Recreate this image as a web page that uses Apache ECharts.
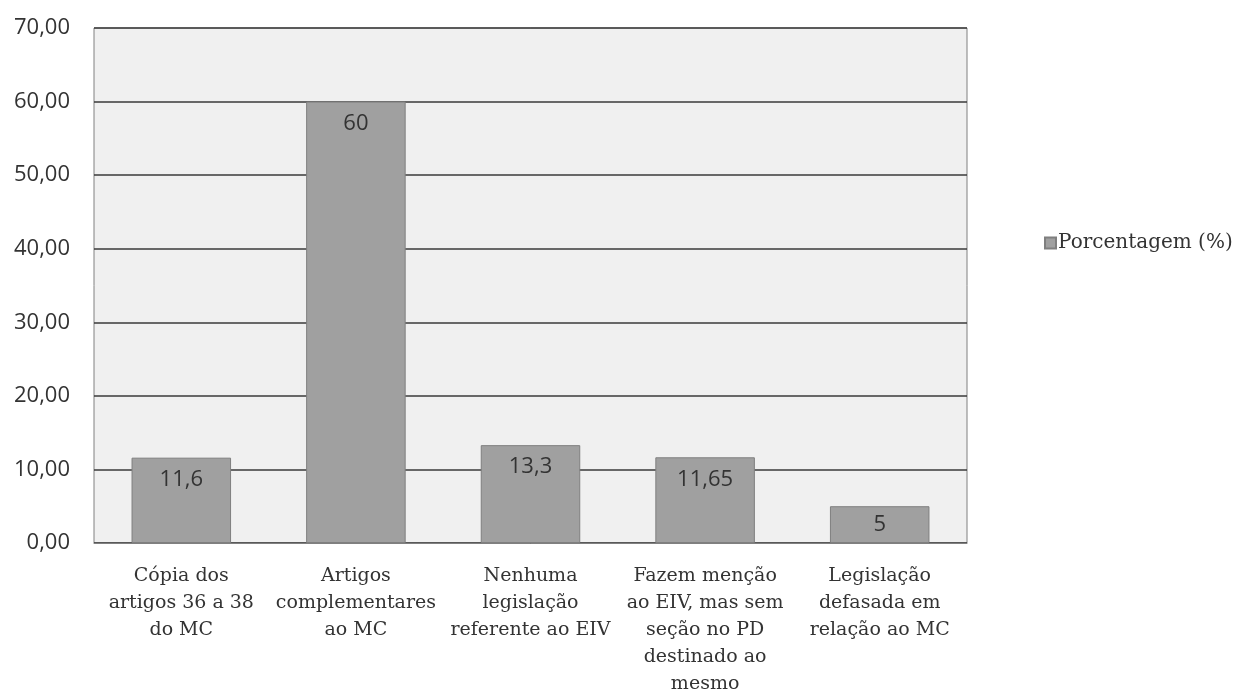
<!DOCTYPE html>
<html>
<head>
<meta charset="utf-8">
<script src="https://cdn.jsdelivr.net/npm/echarts@6/dist/echarts.min.js"></script>
<style>
  html, body { margin: 0; padding: 0; background: #fff; }
  #main { width: 1243px; height: 695px; }
</style>
</head>
<body>
<div id="main"></div>
<script>
var categories = [
  "Cópia dos\nartigos 36 a 38\ndo MC",
  "Artigos\ncomplementares\nao MC",
  "Nenhuma\nlegislação\nreferente ao EIV",
  "Fazem menção\nao EIV, mas sem\nseção no PD\ndestinado ao\nmesmo",
  "Legislação\ndefasada em\nrelação ao MC"
];
var values = [11.6, 60, 13.3, 11.65, 5];
var seriesName = "Porcentagem (%)";

var chartDom = document.getElementById('main');
var myChart = echarts.init(chartDom);
var option;

// short bars get their label centred instead of at the top
var barData = values.map(function (v) {
  return v < 8 ? { value: v, label: { position: 'inside' } } : v;
});

option = {
  animation: false,
  grid: {
    left: 94,
    right: 276,
    top: 28,
    bottom: 152,
    outerBoundsMode: 'none',
    show: true,
    backgroundColor: '#f0f0f0',
    borderColor: '#808080',
    borderWidth: 1
  },
  legend: {
    orient: 'vertical',
    left: 1039,
    top: 228,
    itemWidth: 11,
    itemHeight: 11,
    itemGap: 6,
    icon: 'rect',
    textStyle: { fontFamily: 'DejaVu Serif', fontSize: 20, color: '#333', padding: [0, 0, 0, -3] },
    data: [seriesName]
  },
  xAxis: {
    type: 'category',
    data: categories,
    axisTick: { show: false },
    axisLine: { lineStyle: { color: '#808080' } },
    axisLabel: {
      interval: 0,
      margin: 20,
      color: '#333',
      fontFamily: 'DejaVu Serif',
      fontSize: 19,
      lineHeight: 27
    }
  },
  yAxis: {
    type: 'value',
    min: 0,
    max: 70,
    interval: 10,
    axisLine: { show: false },
    axisTick: { show: false },
    splitLine: { lineStyle: { color: '#3a3a3a', width: 1.5 } },
    axisLabel: {
      margin: 24,
      color: '#333',
      fontFamily: 'Open Sans',
      fontSize: 22,
      formatter: function (v) { return v.toFixed(2).replace('.', ','); }
    }
  },
  series: [
    {
      name: seriesName,
      type: 'bar',
      data: barData,
      barWidth: '57%',
      itemStyle: { color: '#a0a0a0', borderColor: '#7f7f7f', borderWidth: 1 },
      label: {
        show: true,
        position: 'insideTop',
        distance: 11,
        color: '#333',
        fontFamily: 'Open Sans',
        fontSize: 22,
        formatter: function (p) { return String(p.value).replace('.', ','); }
      }
    }
  ]
};

option && myChart.setOption(option);
window.addEventListener("resize", function() {
  myChart.resize();
});
</script>
</body>
</html>
